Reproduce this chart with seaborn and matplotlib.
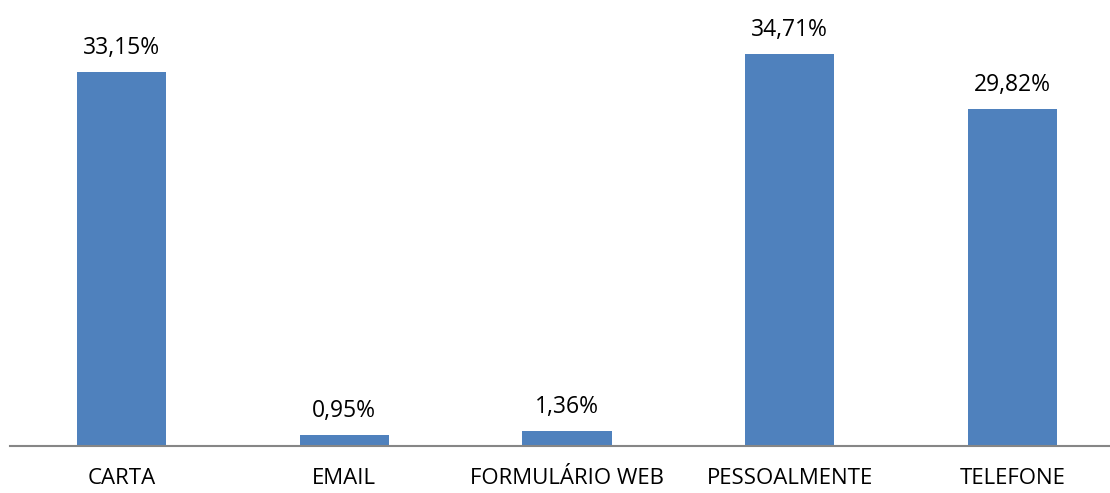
import matplotlib
matplotlib.use("Agg")
import matplotlib.pyplot as plt
import seaborn as sns
import pandas as pd

categories = ["CARTA", "EMAIL", "FORMULÁRIO WEB", "PESSOALMENTE", "TELEFONE"]
values = [33.15, 0.95, 1.36, 34.71, 29.82]

df = pd.DataFrame({"canal": categories, "pct": values})

sns.set_style("white")
plt.rcParams["font.family"] = ["Open Sans", "DejaVu Sans"]

fig = plt.figure(figsize=(11.1, 4.93), dpi=100)
ax = fig.add_axes([10.1 / 1110, 47 / 493, 1113.8 / 1110, 446 / 493])

sns.barplot(data=df, x="canal", y="pct", color="#4F81BD", width=0.4,
            saturation=1, linewidth=0, ax=ax)

for i, v in enumerate(values):
    ax.annotate(f"{v:.2f}%".replace(".", ","), (i, v), xytext=(0, 13),
                textcoords="offset points", ha="center", va="baseline",
                fontsize=16.5, color="black")

ax.set_xlim(-0.5, 4.5)
ax.set_ylim(0, 39.5)
ax.set_xlabel("")
ax.set_ylabel("")
ax.set_yticks([])
ax.tick_params(axis="x", length=0, pad=15.5, labelsize=16, labelcolor="black")
for s in ["top", "right", "left"]:
    ax.spines[s].set_visible(False)
ax.spines["bottom"].set_color("#868686")
ax.spines["bottom"].set_linewidth(1.5)

fig.savefig("out.png", dpi=100)
